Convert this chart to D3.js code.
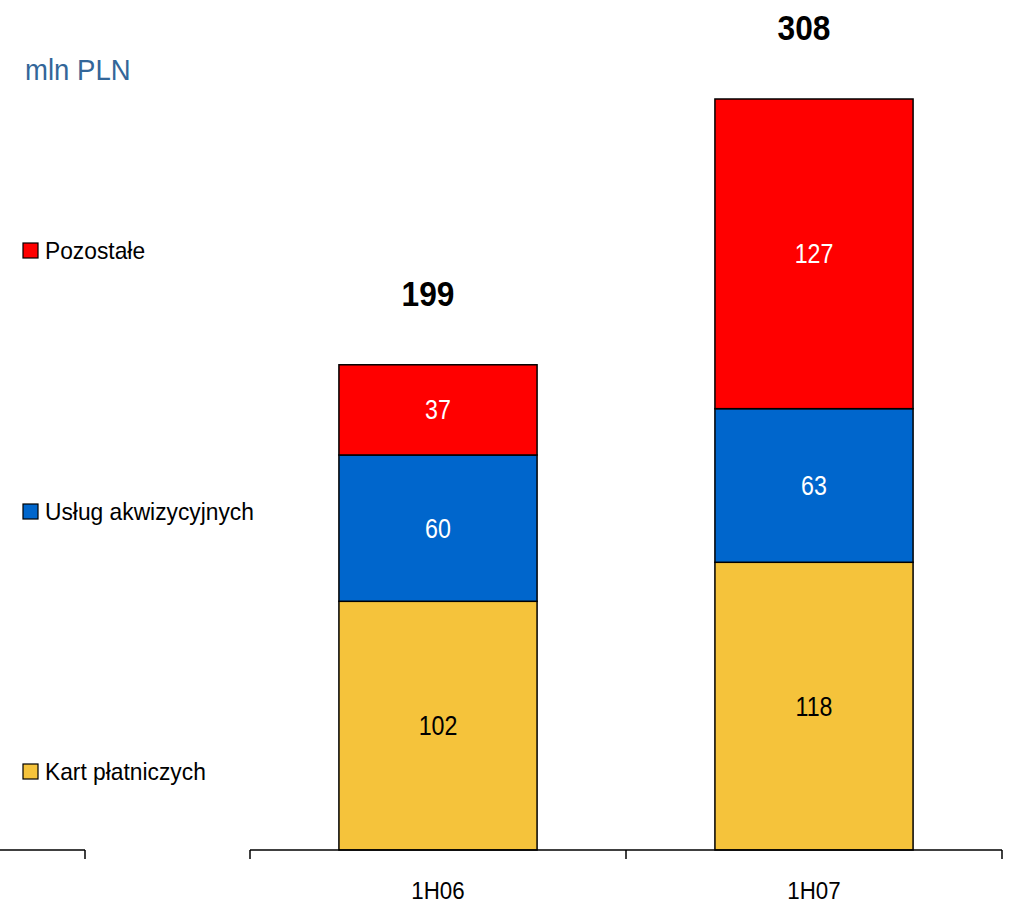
<!DOCTYPE html>
<html>
<head>
<meta charset="utf-8">
<script src="https://cdn.jsdelivr.net/npm/d3@7"></script>
<style>
  body { margin: 0; background: #fff; }
  svg text { font-family: "Liberation Sans", Arial, sans-serif; }
</style>
</head>
<body>
<svg></svg>
<script>
// data
var periods = ["1H06", "1H07"]
var seriesNames = ["Kart płatniczych", "Usług akwizycyjnych", "Pozostałe"]
var kartValues = [102, 118]
var uslugValues = [60, 63]
var pozostaleValues = [37, 127]
var totals = [199, 308]
var colors = ["#f5c33b", "#0066cc", "#ff0000"]
var labelColors = ["#000", "#fff", "#fff"]

var width = 1009, height = 904

var svg = d3.select("svg")
    .attr("width", width)
    .attr("height", height)

// text in the original is a bit narrow, squeeze it horizontally
function place(xv, yv, sx) {
  return "translate(" + xv + "," + yv + ") scale(" + sx + ",1)"
}

var rows = periods.map(function(p, i) {
  return {period: p, "Kart płatniczych": kartValues[i], "Usług akwizycyjnych": uslugValues[i], "Pozostałe": pozostaleValues[i], total: totals[i]}
})
var stacked = d3.stack().keys(seriesNames)(rows)

var x = d3.scaleBand()
    .domain(periods)
    .range([250, 1002])
    .padding(0)

var y = d3.scaleLinear()
    .domain([0, 308])
    .range([850, 99])

var barW = x.bandwidth() * 0.527

// bars
var layer = svg.append("g").selectAll("g")
  .data(stacked)
  .enter().append("g")
  .attr("fill", function(d, i) { return colors[i] })

layer.selectAll("rect")
  .data(function(d) { return d })
  .enter().append("rect")
  .attr("x", function(d) { return x(d.data.period) + (x.bandwidth() - barW) / 2 })
  .attr("y", function(d) { return y(d[1]) })
  .attr("width", barW)
  .attr("height", function(d) { return y(d[0]) - y(d[1]) })
  .attr("stroke", "#000")
  .attr("stroke-width", 1.5)

// segment labels
stacked.forEach(function(s, i) {
  svg.append("g").selectAll("text")
    .data(s)
    .enter().append("text")
    .attr("transform", function(d) {
      return place(x(d.data.period) + x.bandwidth() / 2, (y(d[0]) + y(d[1])) / 2, 0.86)
    })
    .attr("dy", "0.35em")
    .attr("text-anchor", "middle")
    .attr("fill", labelColors[i])
    .style("font-size", "27px")
    .text(function(d) { return d[1] - d[0] })
})

// totals
svg.append("g").selectAll("text")
  .data(rows)
  .enter().append("text")
  .attr("transform", function(d) {
    return place(x(d.period) + x.bandwidth() / 2 - 10, y(d.total) - 59, 0.88)
  })
  .attr("text-anchor", "middle")
  .style("font-size", "36px")
  .style("font-weight", "bold")
  .text(function(d) { return d.total })

// axis
var axis = svg.append("g").attr("stroke", "#000").attr("stroke-width", 1.5)
axis.append("line").attr("x1", 250).attr("x2", 1002).attr("y1", y(0)).attr("y2", y(0))
var edges = periods.map(function(p) { return x(p) }).concat([x.range()[1]])
axis.selectAll(".tick")
  .data(edges)
  .enter().append("line")
  .attr("x1", function(d) { return d }).attr("x2", function(d) { return d })
  .attr("y1", y(0)).attr("y2", y(0) + 9)
// stray stub on the left
axis.append("line").attr("x1", 0).attr("x2", 85).attr("y1", y(0)).attr("y2", y(0))
axis.append("line").attr("x1", 85).attr("x2", 85).attr("y1", y(0)).attr("y2", y(0) + 9)

svg.append("g").selectAll("text")
  .data(periods)
  .enter().append("text")
  .attr("transform", function(d) { return place(x(d) + x.bandwidth() / 2, 899, 0.93) })
  .attr("text-anchor", "middle")
  .style("font-size", "24px")
  .text(function(d) { return d })

// unit
svg.append("text")
  .attr("transform", place(25, 80, 0.95))
  .attr("fill", "#336699")
  .style("font-size", "29px")
  .text("mln PLN")

// legend
var legendY = [772, 512, 251]
var legend = svg.append("g").selectAll("g")
  .data(seriesNames)
  .enter().append("g")
  .attr("transform", function(d, i) { return "translate(23," + legendY[i] + ")" })
legend.append("rect")
  .attr("x", 0).attr("y", -8)
  .attr("width", 15).attr("height", 15)
  .attr("fill", function(d, i) { return colors[i] })
  .attr("stroke", "#000")
  .attr("stroke-width", 1.2)
legend.append("text")
  .attr("transform", place(22, 0, 0.95))
  .attr("dy", "0.35em")
  .style("font-size", "24px")
  .text(function(d) { return d })
</script>
</body>
</html>
